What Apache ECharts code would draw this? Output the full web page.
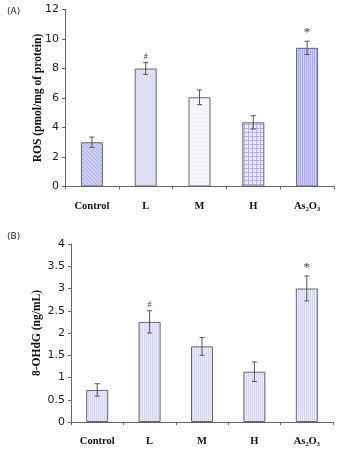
<!DOCTYPE html>
<html>
<head>
<meta charset="utf-8">
<script src="https://cdn.jsdelivr.net/npm/echarts@6/dist/echarts.min.js"></script>
<style>
  html, body { margin: 0; padding: 0; background: #fff; }
  #main { width: 350px; height: 450px; }
</style>
</head>
<body>
<div id="main"></div>
<script>
// data
var categories = ['Control', 'L', 'M', 'H', 'As\u2082O\u2083'];

var rosValues = [3.0, 8.0, 6.05, 4.35, 9.4];
var rosErrors = [0.35, 0.4, 0.5, 0.45, 0.45];
var rosMarks  = ['', '#', '', '', '*'];
var rosTicks  = [0, 2, 4, 6, 8, 10, 12];

var ohdgValues = [0.72, 2.25, 1.7, 1.13, 3.0];
var ohdgErrors = [0.14, 0.25, 0.2, 0.22, 0.28];
var ohdgMarks  = ['', '#', '', '', '*'];
var ohdgTicks  = [0, 0.5, 1, 1.5, 2, 2.5, 3, 3.5, 4];

// small canvas fill patterns, like the hatched bars of the print
function makePattern(kind, bg, fg) {
    var c = document.createElement('canvas');
    c.width = 4; c.height = 4;
    var g = c.getContext('2d');
    g.fillStyle = bg;
    g.fillRect(0, 0, 4, 4);
    g.fillStyle = fg;
    if (kind === 'diag') {
        for (var i = 0; i < 4; i++) g.fillRect(i, i, 1, 1);
    } else if (kind === 'check') {
        g.fillRect(0, 0, 1, 1); g.fillRect(2, 2, 1, 1);
    } else if (kind === 'dots') {
        g.fillRect(1, 1, 1, 1);
    } else if (kind === 'grid') {
        g.fillRect(0, 0, 4, 1); g.fillRect(0, 0, 1, 4);
    } else if (kind === 'vert') {
        g.fillRect(0, 0, 1, 4); g.fillRect(2, 0, 1, 4);
    }
    return { image: c, repeat: 'repeat' };
}

var rosFills = [
    makePattern('diag', '#cdcdf3', '#afafe8'),
    makePattern('check', '#e2e2f8', '#cacaf0'),
    makePattern('dots', '#f6f6fc', '#d6d6ec'),
    makePattern('grid', '#eeeefb', '#b2b2e8'),
    makePattern('vert', '#cfcff8', '#acacee')
];
var ohdgFill = makePattern('vert', '#ececfc', '#d4d4f4');

var serif = '"Liberation Serif", "DejaVu Serif", serif';
var sans = '"DejaVu Sans", sans-serif';

function errorSeries(gridIdx, values, errors, marks) {
    return {
        type: 'custom',
        xAxisIndex: gridIdx,
        yAxisIndex: gridIdx,
        z: 5,
        data: values.map(function (v, i) { return [i, v, errors[i]]; }),
        renderItem: function (params, api) {
            var i = api.value(0), v = api.value(1), e = api.value(2);
            var top = api.coord([i, v + e]);
            var bot = api.coord([i, v - e]);
            var x = top[0], hw = 2.5;
            var st = { stroke: '#555', lineWidth: 1 };
            var kids = [
                { type: 'line', shape: { x1: x, y1: top[1], x2: x, y2: bot[1] }, style: st },
                { type: 'line', shape: { x1: x - hw, y1: top[1], x2: x + hw, y2: top[1] }, style: st },
                { type: 'line', shape: { x1: x - hw, y1: bot[1], x2: x + hw, y2: bot[1] }, style: st }
            ];
            var m = marks[i];
            if (m) {
                kids.push({
                    type: 'text',
                    style: {
                        x: x, y: top[1] - 2,
                        text: m,
                        fill: '#444',
                        font: (m === '*' ? '13px ' : '8px ') + serif,
                        align: 'center',
                        verticalAlign: 'bottom'
                    }
                });
            }
            return { type: 'group', children: kids };
        }
    };
}

function xAxisFor(gridIdx) {
    return {
        type: 'category',
        gridIndex: gridIdx,
        data: categories,
        axisLine: { lineStyle: { color: '#666', width: 1 } },
        axisTick: { show: true, length: 3, lineStyle: { color: '#666' } },
        axisLabel: {
            margin: 14,
            fontFamily: serif,
            fontWeight: 'bold',
            fontSize: 10.5,
            color: '#111'
        }
    };
}

function yAxisFor(gridIdx, ticks, name, gap) {
    return {
        type: 'value',
        gridIndex: gridIdx,
        min: ticks[0],
        max: ticks[ticks.length - 1],
        interval: ticks[1] - ticks[0],
        name: name,
        nameLocation: 'middle',
        nameGap: gap,
        nameMoveOverlap: false,
        nameTextStyle: {
            fontFamily: serif,
            fontWeight: 'bold',
            fontSize: 11.5,
            color: '#111'
        },
        splitLine: { show: false },
        axisLine: { show: true, lineStyle: { color: '#666', width: 1 } },
        axisTick: { show: true, length: 3, lineStyle: { color: '#666' } },
        axisLabel: {
            margin: 6,
            fontFamily: sans,
            fontSize: 11,
            color: '#222'
        }
    };
}

var chart = echarts.init(document.getElementById('main'), null, { renderer: 'canvas' });

var option = {
    animation: false,
    backgroundColor: '#fff',
    title: [
        { text: '(A)', left: 2, top: 2, textStyle: { fontFamily: sans, fontSize: 9, fontWeight: 'normal', color: '#222' } },
        { text: '(B)', left: 2, top: 227, textStyle: { fontFamily: sans, fontSize: 9, fontWeight: 'normal', color: '#222' } }
    ],
    grid: [
        { left: 65, right: 16, top: 9.5, height: 177 },
        { left: 71, right: 17, top: 244, height: 178 }
    ],
    xAxis: [xAxisFor(0), xAxisFor(1)],
    yAxis: [
        yAxisFor(0, rosTicks, 'ROS (pmol/mg of protein)', 21),
        yAxisFor(1, ohdgTicks, '8-OHdG (ng/mL)', 28)
    ],
    series: [
        {
            type: 'bar',
            xAxisIndex: 0,
            yAxisIndex: 0,
            barWidth: 22,
            data: rosValues.map(function (v, i) {
                return { value: v, itemStyle: { color: rosFills[i] } };
            }),
            itemStyle: { borderColor: '#666', borderWidth: 1 }
        },
        errorSeries(0, rosValues, rosErrors, rosMarks),
        {
            type: 'bar',
            xAxisIndex: 1,
            yAxisIndex: 1,
            barWidth: 22,
            data: ohdgValues,
            itemStyle: { color: ohdgFill, borderColor: '#666', borderWidth: 1 }
        },
        errorSeries(1, ohdgValues, ohdgErrors, ohdgMarks)
    ]
};

chart.setOption(option);

window.addEventListener('resize', function () {
    if (chart != null && chart != undefined) {
        chart.resize();
    }
});
</script>
</body>
</html>
